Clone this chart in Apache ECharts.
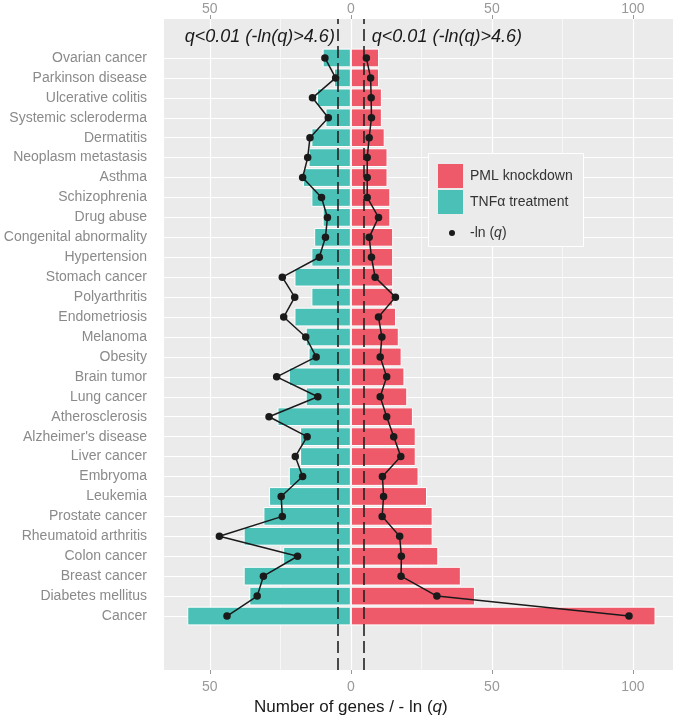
<!DOCTYPE html>
<html><head><meta charset="utf-8">
<script src="https://cdn.jsdelivr.net/npm/echarts@6/dist/echarts.min.js"></script>
<style>html,body{margin:0;padding:0;background:#fff}#c{width:685px;height:720px}</style>
</head><body><div id="c"></div>
<script>
// ---- data (top to bottom) ----
const categories = ['Ovarian cancer','Parkinson disease','Ulcerative colitis','Systemic scleroderma','Dermatitis','Neoplasm metastasis','Asthma','Schizophrenia','Drug abuse','Congenital abnormality','Hypertension','Stomach cancer','Polyarthritis','Endometriosis','Melanoma','Obesity','Brain tumor','Lung cancer','Atherosclerosis',"Alzheimer's disease",'Liver cancer','Embryoma','Leukemia','Prostate cancer','Rheumatoid arthritis','Colon cancer','Breast cancer','Diabetes mellitus','Cancer'];
const pmlGenes = [10,10,11,11,12,13,13,14,14,15,15,15,15,16,17,18,19,20,22,23,23,24,27,29,29,31,39,44,108];
const tnfGenes = [10,6,12,9,14,15,17,14,10,13,14,20,14,20,16,15,22,16,26,18,18,22,29,31,38,24,38,36,58];
const pmlLnQ = [5.5,7.0,7.2,7.3,6.5,5.8,5.8,5.8,9.8,6.5,7.3,8.6,15.8,9.8,11.0,10.4,12.7,10.4,12.7,15.2,17.7,11.2,11.6,11.1,17.3,17.9,17.8,30.5,98.6];
const tnfLnQ = [9.2,5.4,13.6,8.0,14.5,15.3,17.1,10.4,8.3,9.0,11.2,24.3,19.9,23.8,16.0,12.3,26.3,11.7,29.0,15.5,19.7,17.1,24.7,24.3,46.6,18.9,31.0,33.2,43.9];
const xTickValues = [-50, 0, 50, 100];
const majorGrid = [-50, 0, 50, 100];
const minorGrid = [-25, 25, 75];
const qThreshold = 4.6;
const thresholdLabel = 'q<0.01 (-ln(q)>4.6)';

// ---- style ----
const X_MIN = -66.24, X_MAX = 114.2;
const FONT = '"Liberation Sans", Arial, Helvetica, sans-serif';
const RED = '#EF5A6B', TEAL = '#4BC0B6', PANEL = '#EBEBEB';
const LABEL_GREY = '#8a8a8a';

const chart = echarts.init(document.getElementById('c'), null, {renderer: 'canvas'});

const gridLineData = majorGrid.map(v => ({xAxis: v, lineStyle: {color: '#fff', width: 1.2, type: 'solid'}}))
  .concat(minorGrid.map(v => ({xAxis: v, lineStyle: {color: '#fff', width: 0.6, type: 'solid'}})));

const option = {
  animation: false,
  backgroundColor: '#fff',
  textStyle: {fontFamily: FONT},
  grid: [
    {left: 164, right: 12, top: 19, bottom: 50, show: true, backgroundColor: PANEL, borderWidth: 0},
    {left: 164, right: 12, top: 48, bottom: 94}
  ],
  xAxis: [
    {gridIndex: 0, type: 'value', min: X_MIN, max: X_MAX, position: 'bottom',
     axisLine: {show: false}, splitLine: {show: false},
     axisTick: {show: true, customValues: xTickValues, length: 4, lineStyle: {color: '#999', width: 1}},
     axisLabel: {customValues: xTickValues, formatter: v => String(Math.abs(v)), color: '#999', fontSize: 14, margin: 10, fontFamily: FONT}},
    {gridIndex: 0, type: 'value', min: X_MIN, max: X_MAX, position: 'top',
     axisLine: {show: false}, splitLine: {show: false},
     axisTick: {show: true, customValues: xTickValues, length: 4, lineStyle: {color: '#999', width: 1}},
     axisLabel: {customValues: xTickValues, formatter: v => String(Math.abs(v)), color: '#999', fontSize: 14, margin: 3, fontFamily: FONT}},
    {gridIndex: 1, type: 'value', min: X_MIN, max: X_MAX, show: false}
  ],
  yAxis: [
    {gridIndex: 0, type: 'value', min: 0, max: 1, show: false},
    {gridIndex: 1, type: 'category', data: categories, inverse: true,
     axisLine: {show: false}, splitLine: {show: false},
     axisTick: {show: true, alignWithLabel: true, length: 4, lineStyle: {color: '#999'}},
     axisLabel: {color: LABEL_GREY, fontSize: 14, margin: 17, fontFamily: FONT}}
  ],
  legend: [
    {data: ['PML knockdown', 'TNFα treatment'], orient: 'vertical', left: 438, top: 164, padding: 0,
     itemWidth: 25, itemHeight: 24, itemGap: 2, icon: 'rect', selectedMode: false, z: 10,
     itemStyle: {borderWidth: 0},
     textStyle: {fontSize: 14, color: '#333', fontFamily: FONT, padding: [0, 0, 0, 2]}},
    {data: [{name: '-ln (q)', icon: 'circle'}], orient: 'vertical', left: 449, top: 226, padding: 0,
     itemWidth: 6, itemHeight: 6, selectedMode: false, z: 10,
     formatter: () => '-ln ({i|q})',
     textStyle: {fontSize: 14, color: '#333', fontFamily: FONT, padding: [0, 0, 0, 10],
       rich: {i: {fontStyle: 'italic', fontSize: 14, color: '#333', fontFamily: FONT}}}}
  ],
  series: [
    {type: 'scatter', name: 'vgrid', xAxisIndex: 0, yAxisIndex: 0, data: [], silent: true,
     markLine: {z: 1, silent: true, symbol: ['none', 'none'], label: {show: false}, data: gridLineData}},
    {type: 'scatter', name: 'hgrid', xAxisIndex: 2, yAxisIndex: 1, data: [], silent: true,
     markLine: {z: 1, silent: true, symbol: ['none', 'none'], label: {show: false},
       lineStyle: {color: '#fff', width: 1.2, type: 'solid'},
       data: categories.map(c => ({yAxis: c}))}},
    {type: 'bar', name: 'TNFα treatment', xAxisIndex: 2, yAxisIndex: 1, stack: 'genes',
     barCategoryGap: '6%', z: 2,
     itemStyle: {color: TEAL, borderColor: '#fff', borderWidth: 1},
     data: tnfGenes.map(v => -v)},
    {type: 'bar', name: 'PML knockdown', xAxisIndex: 2, yAxisIndex: 1, stack: 'genes',
     barCategoryGap: '6%', z: 2,
     itemStyle: {color: RED, borderColor: '#fff', borderWidth: 1},
     data: pmlGenes},
    {type: 'scatter', name: 'threshold', xAxisIndex: 0, yAxisIndex: 0, data: [], silent: true,
     markLine: {z: 3, silent: true, symbol: ['none', 'none'], label: {show: false},
       lineStyle: {color: '#222', width: 1.6, type: [12, 5]},
       data: [{xAxis: -qThreshold}, {xAxis: qThreshold}]}},
    {type: 'line', name: '-ln (q)', xAxisIndex: 2, yAxisIndex: 1, z: 4,
     symbol: 'circle', symbolSize: 7.5,
     lineStyle: {color: '#1a1a1a', width: 1.5}, itemStyle: {color: '#1a1a1a'},
     data: tnfLnQ.map(v => -v)},
    {type: 'line', name: '-ln (q)', xAxisIndex: 2, yAxisIndex: 1, z: 4,
     symbol: 'circle', symbolSize: 7.5,
     lineStyle: {color: '#1a1a1a', width: 1.5}, itemStyle: {color: '#1a1a1a'},
     data: pmlLnQ}
  ]
};
chart.setOption(option);

const xl = chart.convertToPixel({xAxisIndex: 0}, -qThreshold);
const xr = chart.convertToPixel({xAxisIndex: 0}, qThreshold);
const x0 = chart.convertToPixel({xAxisIndex: 0}, 0);
chart.setOption({
  graphic: [
    {type: 'rect', z: 5, shape: {x: 428.5, y: 153.5, width: 155, height: 93},
     style: {fill: PANEL, stroke: '#fff', lineWidth: 1}},
    {type: 'text', z: 6, x: xl - 3, y: 37,
     style: {text: thresholdLabel, fontSize: 18, fontStyle: 'italic', fontFamily: FONT, fill: '#1a1a1a', align: 'right', verticalAlign: 'middle'}},
    {type: 'text', z: 6, x: xr + 8, y: 37,
     style: {text: thresholdLabel, fontSize: 18, fontStyle: 'italic', fontFamily: FONT, fill: '#1a1a1a', align: 'left', verticalAlign: 'middle'}},
    {type: 'text', z: 6, x: x0, y: 707,
     style: {text: 'Number of genes / - ln ({i|q})', fontSize: 17, fontFamily: FONT, fill: '#1a1a1a', align: 'center', verticalAlign: 'middle',
       rich: {i: {fontStyle: 'italic', fontSize: 17, fontFamily: FONT, fill: '#1a1a1a'}}}}
  ]
});
</script>
</body></html>
